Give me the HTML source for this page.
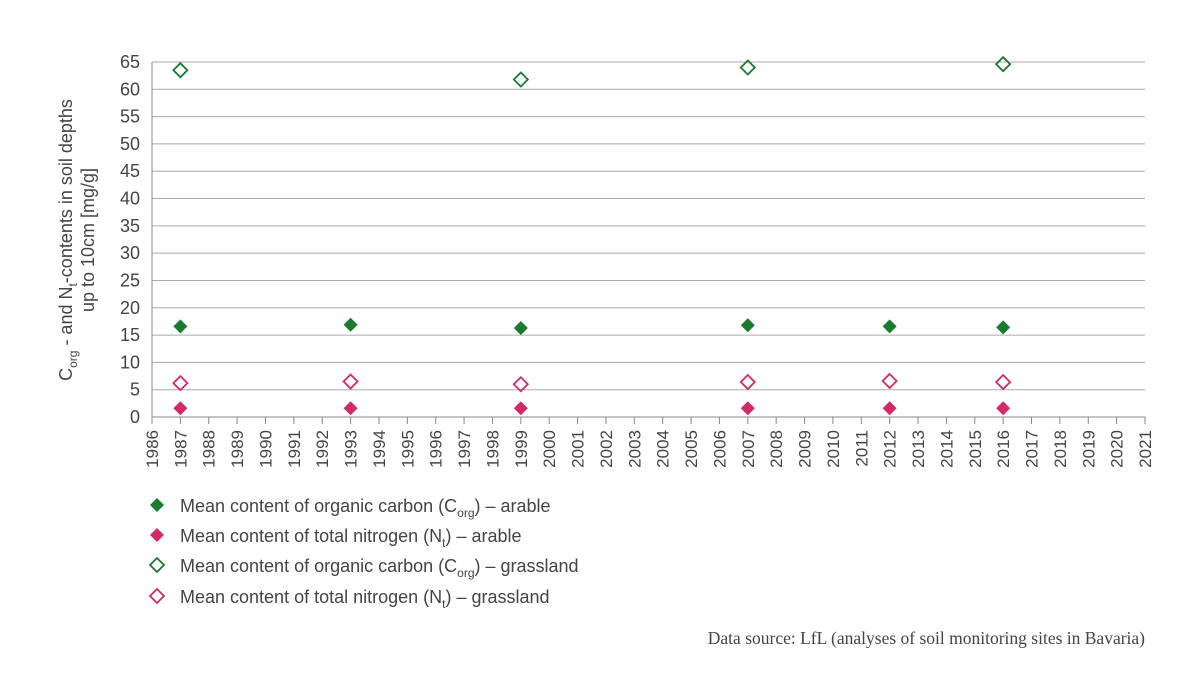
<!DOCTYPE html>
<html><head><meta charset="utf-8"><style>
body{margin:0;background:#fff;width:1200px;height:691px;overflow:hidden;font-family:"Liberation Sans","DejaVu Sans",sans-serif}
</style></head><body>
<svg id="chart" width="1200" height="691" xmlns="http://www.w3.org/2000/svg" font-family="Liberation Sans, DejaVu Sans, sans-serif">
<g id="grid"></g>
<g id="yt"></g>
<g id="xt"></g>
<g id="marks"></g>
<text transform="translate(72,240) rotate(-90)" text-anchor="middle" font-size="18" fill="#444">C<tspan font-size="12" dy="5">org</tspan><tspan dy="-5"> - and N</tspan><tspan font-size="12" dy="5">t</tspan><tspan dy="-5">-contents in soil depths</tspan></text>
<text transform="translate(94,240) rotate(-90)" text-anchor="middle" font-size="18" fill="#444">up to 10cm [mg/g]</text>
<g font-size="18" fill="#444">
<path d="M157,498 l7,7 -7,7 -7,-7z" fill="#1a7a2e"/>
<text x="180" y="512">Mean content of organic carbon  (C<tspan font-size="12" dy="5">org</tspan><tspan dy="-5">) – arable</tspan></text>
<path d="M157,528 l7,7 -7,7 -7,-7z" fill="#d42a62"/>
<text x="180" y="542">Mean content of total nitrogen (N<tspan font-size="12" dy="5">t</tspan><tspan dy="-5">) – arable</tspan></text>
<path d="M157,558 l7,7 -7,7 -7,-7z" fill="none" stroke="#1a7a2e" stroke-width="1.8"/>
<text x="180" y="572">Mean content of organic carbon (C<tspan font-size="12" dy="5">org</tspan><tspan dy="-5">) – grassland</tspan></text>
<path d="M157,589 l7,7 -7,7 -7,-7z" fill="none" stroke="#d42a62" stroke-width="1.8"/>
<text x="180" y="603">Mean content of total nitrogen (N<tspan font-size="12" dy="5">t</tspan><tspan dy="-5">) – grassland</tspan></text>
</g>
<text x="1145" y="644" text-anchor="end" font-family="Liberation Serif, serif" font-size="17.5" fill="#444">Data source: LfL (analyses of soil monitoring sites in Bavaria)</text>
</svg>
<script>
const years=[1987,1993,1999,2007,2012,2016];
const cArable=[16.6,16.9,16.3,16.8,16.6,16.4];
const nArable=[1.6,1.6,1.6,1.6,1.6,1.6];
const cGrassYears=[1987,1999,2007,2016];
const cGrass=[63.5,61.8,64.0,64.6];
const nGrass=[6.2,6.5,6.0,6.4,6.6,6.4];
const yTicks=[0,5,10,15,20,25,30,35,40,45,50,55,60,65];
const x0=152,x1=1145,y0=417,y1=62;
const X=v=>x0+(v-1986)/(2021-1986)*(x1-x0);
const Y=v=>y0-(v/65)*(y0-y1);
const NS="http://www.w3.org/2000/svg";
function mk(t,a,p){const e=document.createElementNS(NS,t);for(const k in a)e.setAttribute(k,a[k]);p.appendChild(e);return e;}
const grid=document.getElementById('grid'),yt=document.getElementById('yt'),xt=document.getElementById('xt'),marks=document.getElementById('marks');
yTicks.forEach(v=>{
 const l=mk('line',{x1:x0,x2:x1,y1:Y(v),y2:Y(v),stroke:v===0?'#888':'#aaa','stroke-width':1},grid);
 
 
 const t=mk('text',{x:x0-12,y:Y(v)+6,'text-anchor':'end','font-size':18,fill:'#444'},yt);
 t.textContent=v;
 
 
});
mk('line',{x1:x0,x2:x0,y1:y1,y2:y0+7,stroke:'#888'},grid);
for(let yr=1986;yr<=2021;yr++){
 mk('line',{x1:X(yr),x2:X(yr),y1:y0,y2:y0+7,stroke:'#888'},xt);
 const t=mk('text',{transform:`translate(${X(yr)+6},${y0+13}) rotate(-90)`,'text-anchor':'end','font-size':17,fill:'#444'},xt);
 t.textContent=yr;
 
 
}
function diamond(cx,cy,r,fill,stroke,name){
 const p=mk('path',{d:`M${cx},${cy-r} l${r},${r} -${r},${r} -${r},-${r}z`,fill:fill,stroke:stroke,'stroke-width':fill==='none'?1.8:0},marks);
 
 
}
years.forEach((yr,i)=>diamond(X(yr),Y(cArable[i]),7,'#1a7a2e','none','point-c-arable'));
years.forEach((yr,i)=>diamond(X(yr),Y(nArable[i]),7,'#d42a62','none','point-n-arable'));
cGrassYears.forEach((yr,i)=>diamond(X(yr),Y(cGrass[i]),7,'none','#1a7a2e','point-c-grassland'));
years.forEach((yr,i)=>diamond(X(yr),Y(nGrass[i]),7,'none','#d42a62','point-n-grassland'));
</script>
</body></html>
